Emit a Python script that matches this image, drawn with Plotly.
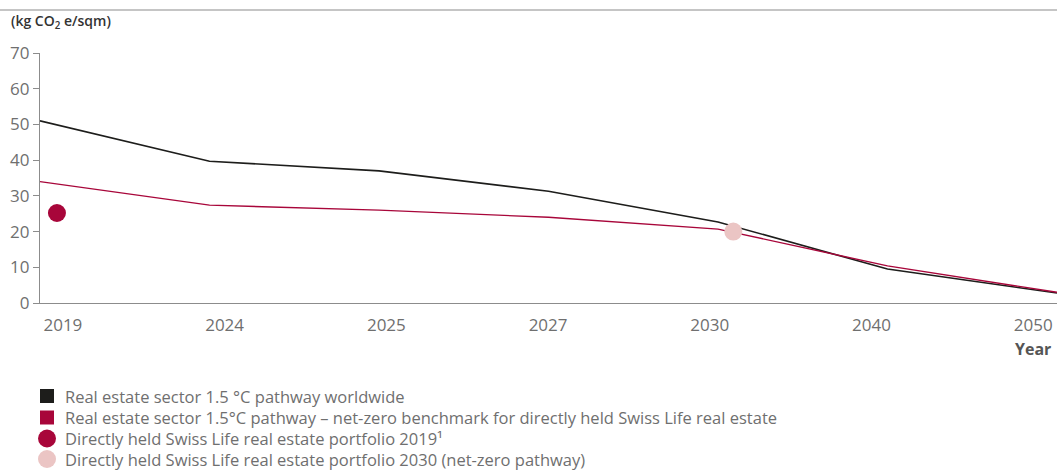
import plotly.graph_objects as go

years = ["2019", "2024", "2025", "2027", "2030", "2040", "2050"]
world_pathway = [51.0, 39.7, 37.0, 31.3, 22.7, 9.5, 2.8]
netzero_benchmark = [34.0, 27.4, 26.0, 24.0, 20.7, 10.4, 3.0]
portfolio_2019 = 25.2
portfolio_2030 = 20.0

names = [
    "Real estate sector 1.5 °C pathway worldwide",
    "Real estate sector 1.5°C pathway – net-zero benchmark for directly held Swiss Life real estate",
    "Directly held Swiss Life real estate portfolio 2019¹",
    "Directly held Swiss Life real estate portfolio 2030 (net-zero pathway)",
]

BLACK = "#1d1d1b"
RED = "#a8063a"
PINK = "#ebc5c4"
GRAY = "#6f6f6f"
FONT = "Open Sans"

# plot area in pixels (for legend/annotation placement)
L, T, B, W = 40, 53, 303, 1017
H = B - T


def px(x):
    return (x - L) / W


def py(y):
    return (B - y) / H


idx = list(range(len(years)))

fig = go.Figure()
fig.add_trace(go.Scatter(x=idx, y=world_pathway, mode="lines", name=names[0],
                         line=dict(color=BLACK, width=1.6), showlegend=False, hoverinfo="skip"))
fig.add_trace(go.Scatter(x=idx, y=netzero_benchmark, mode="lines", name=names[1],
                         line=dict(color=RED, width=1.4), showlegend=False, hoverinfo="skip"))
fig.add_trace(go.Scatter(x=[idx[0] + 0.1], y=[portfolio_2019], mode="markers", name=names[2],
                         marker=dict(color=RED, size=18), showlegend=False))
fig.add_trace(go.Scatter(x=[idx[4] + 0.09], y=[portfolio_2030], mode="markers", name=names[3],
                         marker=dict(color=PINK, size=18), showlegend=False))

n = len(years)
tick_pos = [0.135 + i * (5.86 - 0.135) / (n - 1) for i in range(n)]

# manual legend
legend_rows = [(names[0], BLACK, "rect", 396), (names[1], RED, "rect", 417.5),
               (names[2], RED, "circle", 438.5), (names[3], PINK, "circle", 459)]
shapes = [dict(type="line", xref="paper", yref="paper", x0=px(0), x1=1.0,
               y0=py(10), y1=py(10), line=dict(color="#8c8c8c", width=1.2))]
annotations = [
    dict(text="(kg CO<sub>2</sub> e/sqm)", xref="paper", yref="paper",
         x=px(9), y=py(22), xanchor="left", yanchor="middle", showarrow=False,
         font=dict(size=14, color="#333333", family=FONT, weight=600)),
    dict(text="<b>Year</b>", xref="paper", yref="paper", x=px(1053), y=py(349),
         xanchor="right", yanchor="middle", showarrow=False,
         font=dict(size=16, color="#555555", family=FONT)),
]
for name, col, kind, cy in legend_rows:
    if kind == "rect":
        shapes.append(dict(type="rect", xref="paper", yref="paper",
                           x0=px(40), x1=px(54), y0=py(cy + 7), y1=py(cy - 7),
                           fillcolor=col, line=dict(width=0)))
    else:
        shapes.append(dict(type="circle", xref="paper", yref="paper",
                           x0=px(38), x1=px(56), y0=py(cy + 9), y1=py(cy - 9),
                           fillcolor=col, line=dict(width=0)))
    annotations.append(dict(text=name, xref="paper", yref="paper", x=px(63), y=py(cy),
                            xanchor="left", yanchor="middle", showarrow=False,
                            font=dict(size=16.5, color=GRAY, family=FONT)))

fig.update_layout(
    width=1057, height=470,
    margin=dict(l=L, r=0, t=T, b=470 - B, autoexpand=False),
    paper_bgcolor="white", plot_bgcolor="white",
    font=dict(family=FONT, color=GRAY),
    showlegend=False,
    xaxis=dict(range=[0, 6], tickvals=tick_pos, ticktext=years, showgrid=False,
               zeroline=False, showline=True, linecolor="#8c8c8c", linewidth=1.2,
               ticks="", tickfont=dict(size=17, color=GRAY), ticklabelstandoff=6),
    yaxis=dict(range=[0, 70], tickvals=[0, 10, 20, 30, 40, 50, 60, 70], showgrid=False,
               zeroline=False, showline=True, linecolor="#8c8c8c", linewidth=1.2,
               ticks="outside", ticklen=6, tickcolor="#8c8c8c", tickwidth=1.2,
               tickfont=dict(size=17, color=GRAY)),
    shapes=shapes,
    annotations=annotations,
)

fig.write_html("out.html", config={"displayModeBar": False},
               post_script="document.body.style.margin='0';document.body.style.overflow='hidden';")
